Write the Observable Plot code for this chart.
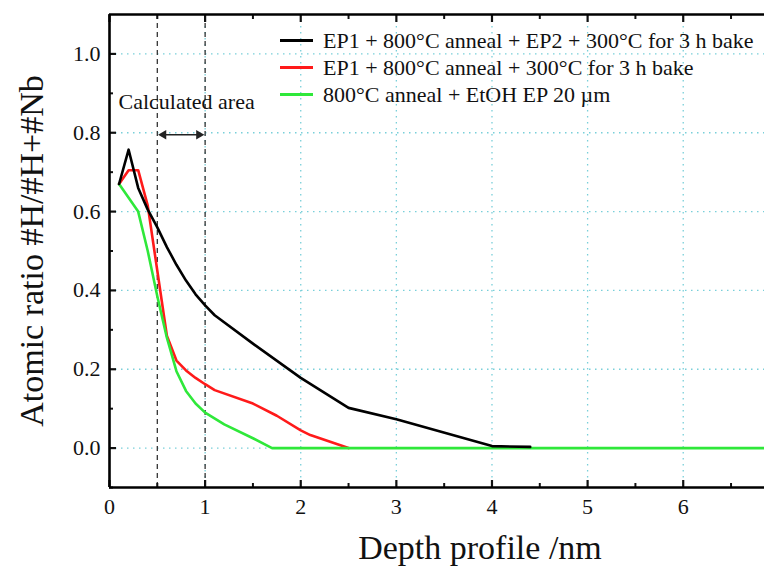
<!DOCTYPE html>
<html><head><meta charset="utf-8">
<script src="https://cdn.jsdelivr.net/npm/d3@7"></script>
<script src="https://cdn.jsdelivr.net/npm/@observablehq/plot@0.6"></script>
<style>
body{margin:0;background:#fff;}
#wrap{position:relative;width:764px;height:574px;font-family:"Liberation Serif","Times New Roman",serif;}
#legend{position:absolute;left:280px;top:27px;font-size:22px;color:#111;font-family:"Liberation Serif","Times New Roman",serif;}
.row{display:flex;align-items:center;height:27px;white-space:nowrap;}
.sw{width:33px;height:3px;margin-right:10px;}
</style></head><body><div id="wrap"><div id="legend"></div></div>
<script>
// ---- data ----
const seriesNames = [
  "EP1 + 800°C anneal + EP2 + 300°C for 3 h bake",
  "EP1 + 800°C anneal + 300°C for 3 h bake",
  "800°C anneal + EtOH EP 20 µm"
];
const seriesColors = ["#000000", "#ff1a1a", "#2fe83a"];

const blackDepth = [0.1, 0.2, 0.3, 0.4, 0.5, 0.6, 0.7, 0.8, 0.9, 1.0, 1.1, 1.5, 2.0, 2.5, 3.0, 4.0, 4.4];
const blackRatio = [0.67, 0.757, 0.66, 0.605, 0.56, 0.51, 0.465, 0.425, 0.39, 0.362, 0.337, 0.265, 0.178, 0.102, 0.073, 0.005, 0.003];

const redDepth = [0.1, 0.2, 0.3, 0.4, 0.5, 0.6, 0.7, 0.8, 0.9, 1.0, 1.1, 1.5, 1.75, 2.0, 2.1, 2.5];
const redRatio = [0.67, 0.705, 0.705, 0.615, 0.45, 0.285, 0.222, 0.197, 0.178, 0.162, 0.147, 0.113, 0.082, 0.045, 0.033, 0.0];

const greenDepth = [0.1, 0.2, 0.3, 0.4, 0.5, 0.6, 0.7, 0.8, 0.9, 1.0, 1.2, 1.5, 1.7, 6.85];
const greenRatio = [0.67, 0.635, 0.6, 0.5, 0.385, 0.28, 0.195, 0.145, 0.113, 0.09, 0.06, 0.025, 0.0, 0.0];

const xDomain = [0, 6.85];
const yDomain = [-0.1, 1.1];
const xMajor = [0, 1, 2, 3, 4, 5, 6];
const xMinor = [0.5, 1.5, 2.5, 3.5, 4.5, 5.5, 6.5];
const yMajor = [0, 0.2, 0.4, 0.6, 0.8, 1.0];
const yMinor = [-0.1, 0.1, 0.3, 0.5, 0.7, 0.9];
const xGrid = [1, 2, 3, 4, 5, 6];
const yGrid = [0, 0.2, 0.4, 0.6, 0.8, 1.0];
const calcBounds = [0.5, 1.0];
const arrowSpan = [{from: 0.55, to: 0.95, y: 0.795}];
const arrowHeads = [{x: 0.565, y: 0.795, rot: -90}, {x: 0.935, y: 0.795, rot: 90}];
const calcLabel = [{x: 0.094, y: 0.879, text: "Calculated area"}];
const xLabel = "Depth profile /nm";
const yLabel = "Atomic ratio #H/#H+#Nb";

// ---- table ----
const rows = [];
const drawOrder = [1, 2, 0];
const depths = [blackDepth, redDepth, greenDepth];
const ratios = [blackRatio, redRatio, greenRatio];
for (const i of drawOrder) {
  depths[i].forEach((d, j) => rows.push({series: seriesNames[i], depth: d, ratio: ratios[i][j]}));
}

const serif = "'Liberation Serif', 'Times New Roman', serif";
const blank = () => "";
const gridStyle = {stroke: "#79cfd9", strokeOpacity: 1, strokeDasharray: "1.5,4.5", strokeWidth: 1.3};

const chart = Plot.plot({
  width: 764,
  height: 574,
  marginLeft: 109,
  marginRight: 0,
  marginTop: 14,
  marginBottom: 87,
  style: {fontFamily: serif, background: "#fff", color: "#111"},
  x: {domain: xDomain},
  y: {domain: yDomain},
  color: {domain: seriesNames, range: seriesColors},
  marks: [
    Plot.gridY(yGrid, gridStyle),
    Plot.gridX(xGrid, gridStyle),
    Plot.ruleX(calcBounds, {stroke: "#333", strokeDasharray: "5,4", strokeWidth: 1.3}),
    Plot.line(rows, {x: "depth", y: "ratio", z: "series", stroke: "series", strokeWidth: 2.6, strokeLinejoin: "round"}),
    Plot.link(arrowSpan, {x1: "from", x2: "to", y1: "y", y2: "y", stroke: "#222", strokeWidth: 1.5}),
    Plot.dot(arrowHeads, {x: "x", y: "y", symbol: "triangle2", r: 4.5, fill: "#222", rotate: "rot"}),
    Plot.text(calcLabel, {x: "x", y: "y", text: "text", textAnchor: "start", fontSize: 22, fontFamily: serif, fill: "#111"}),
    Plot.axisY(yMajor, {anchor: "left", tickSize: 0, tickPadding: 9, tickFormat: d3.format(".1f"), fontSize: 22, fontFamily: serif, label: null}),
    Plot.axisY(yMajor, {anchor: "left", tickSize: -7, tickPadding: 0, tickFormat: blank, strokeWidth: 2.2, label: null}),
    Plot.axisY(yMinor, {anchor: "left", tickSize: -4, tickPadding: 0, tickFormat: blank, strokeWidth: 2, label: null}),
    Plot.axisX(xMajor, {anchor: "bottom", tickSize: 0, tickPadding: 11, fontSize: 22, fontFamily: serif, label: null}),
    Plot.axisX(xMajor, {anchor: "bottom", tickSize: -7, tickPadding: 0, tickFormat: blank, strokeWidth: 2.2, label: null}),
    Plot.axisX(xMinor, {anchor: "bottom", tickSize: -4, tickPadding: 0, tickFormat: blank, strokeWidth: 2, label: null}),
    Plot.axisX(xMajor, {anchor: "top", tickSize: -7, tickPadding: 0, tickFormat: blank, strokeWidth: 2.2, label: null}),
    Plot.axisX(xMinor, {anchor: "top", tickSize: -4, tickPadding: 0, tickFormat: blank, strokeWidth: 2, label: null}),
    Plot.ruleX([xDomain[0]], {stroke: "#000", strokeWidth: 2.6}),
    Plot.ruleY(yDomain, {stroke: "#000", strokeWidth: 2.6}),
    Plot.text([xLabel], {frameAnchor: "bottom", dx: 43, dy: 61, textAnchor: "middle", lineAnchor: "middle", fontSize: 34, fontFamily: serif, fill: "#111"}),
    Plot.text([yLabel], {frameAnchor: "left", dx: -77, dy: 0, rotate: -90, textAnchor: "middle", lineAnchor: "middle", fontSize: 34, fontFamily: serif, fill: "#111"})
  ]
});

const wrap = document.getElementById("wrap");
wrap.insertBefore(chart, wrap.firstChild);
const legend = document.getElementById("legend");
seriesNames.forEach((name, i) => {
  const row = document.createElement("div");
  row.className = "row";
  const sw = document.createElement("span");
  sw.className = "sw";
  sw.style.background = seriesColors[i];
  const t = document.createElement("span");
  t.textContent = name;
  row.appendChild(sw);
  row.appendChild(t);
  legend.appendChild(row);
});
</script>
</body></html>
